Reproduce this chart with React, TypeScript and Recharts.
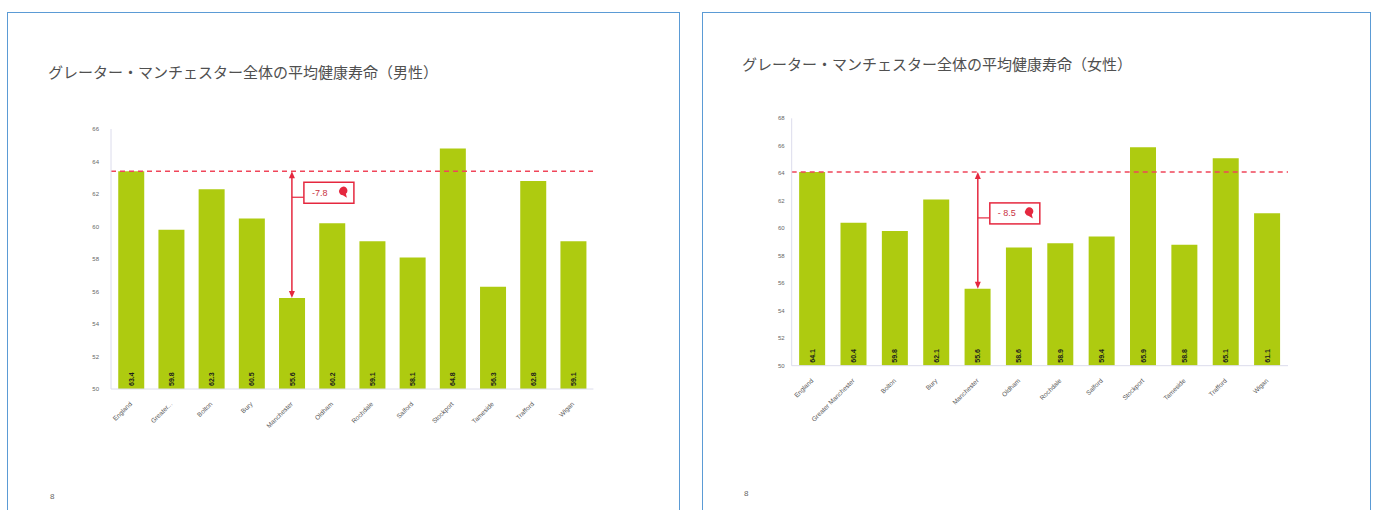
import React from "react";
import { BarChart, Bar, XAxis, YAxis, ReferenceLine, LabelList } from "recharts";

// categories (male panel truncates the long names)
const maleCategories = ["England", "Greater...", "Bolton", "Bury", "Manchester", "Oldham", "Rochdale", "Salford", "Stockport", "Tameside", "Trafford", "Wigan"];
const femaleCategories = ["England", "Greater Manchester", "Bolton", "Bury", "Manchester", "Oldham", "Rochdale", "Salford", "Stockport", "Tameside", "Trafford", "Wigan"];

// healthy life expectancy (years)
const maleValues = [63.4, 59.8, 62.3, 60.5, 55.6, 60.2, 59.1, 58.1, 64.8, 56.3, 62.8, 59.1];
const femaleValues = [64.1, 60.4, 59.8, 62.1, 55.6, 58.6, 58.9, 59.4, 65.9, 58.8, 65.1, 61.1];

const maleTicks = [50, 52, 54, 56, 58, 60, 62, 64, 66];
const femaleTicks = [50, 52, 54, 56, 58, 60, 62, 64, 66, 68];

const maleTitle = "グレーター・マンチェスター全体の平均健康寿命（男性）";
const femaleTitle = "グレーター・マンチェスター全体の平均健康寿命（女性）";

const BAR = "#AECB10";
const RED = "#E5283F";

const BarValue = (props: any) => {
  const { x, y, width, height, value } = props;
  return (
    <text
      transform={`translate(${x + width / 2}, ${y + height - 3}) rotate(-90)`}
      textAnchor="start"
      dominantBaseline="central"
      fontSize={7}
      fontWeight="bold"
      fill="#1d1d1d"
      fontFamily="Arial, sans-serif"
    >
      {Number(value).toFixed(1)}
    </text>
  );
};

const XTick = (props: any) => {
  const { x, y, payload } = props;
  return (
    <g transform={`translate(${x},${y})`}>
      <text x={0} y={0} dy="0.3em" textAnchor="end" transform="rotate(-45)" fontSize={6.5} fill="#555" fontFamily="Arial, sans-serif">
        {payload.value}
      </text>
    </g>
  );
};

function makeCallout(label: string, boxOffset: number) {
  return (p: any) => {
    const x = p.x1;
    const top = Math.min(p.y1, p.y2);
    const bot = Math.max(p.y1, p.y2);
    const bx = x + 12;
    const by = top + boxOffset;
    const bw = 50;
    const bh = 21;
    const my = by + bh / 2;
    const cy = by + 15;
    return (
      <g>
        <line x1={x} y1={top + 3} x2={x} y2={bot - 3} stroke={RED} strokeWidth={1.5} />
        <polygon points={`${x},${top} ${x - 3},${top + 7} ${x + 3},${top + 7}`} fill={RED} />
        <polygon points={`${x},${bot} ${x - 3},${bot - 7} ${x + 3},${bot - 7}`} fill={RED} />
        <line x1={x} y1={cy} x2={bx} y2={cy} stroke={RED} strokeWidth={1.2} />
        <rect x={bx} y={by} width={bw} height={bh} fill="#fff" stroke={RED} strokeWidth={1.5} />
        <text x={bx + 8} y={my} dominantBaseline="central" fontSize={9} fill="#C8323F" fontFamily="Arial, sans-serif">
          {label}
        </text>
        <path d={`M${bx + 36},${my - 4} a4,4 0 1,1 6,5 l1,4 l-4,-2.5 a4,4 0 0,1 -3,-6.5 z`} fill={RED} />
      </g>
    );
  };
}

type PanelProps = {
  left: number;
  width: number;
  boxLeft: number;
  boxWidth: number;
  title: string;
  titleLeft: number;
  titleTop: number;
  footerLeft: number;
  footerTop: number;
  categories: string[];
  values: number[];
  ticks: number[];
  margin: { top: number; left: number; right: number; bottom: number };
  tickMargin: number;
  callout: string;
  boxOffset: number;
};

function Panel(props: PanelProps) {
  const { left, width, boxLeft, boxWidth, title, titleLeft, titleTop, footerLeft, footerTop, categories, values, ticks, margin, tickMargin, callout, boxOffset } = props;
  const data = categories.map((name, i) => ({ name, value: values[i] }));
  const ref = values[0];
  const low = values[4];
  return (
    <>
      <div style={{ position: "absolute", left: boxLeft, top: 12, width: boxWidth, height: 520, border: "1.5px solid #5B9BD5", boxSizing: "border-box" }} />
      <div style={{ position: "absolute", left: titleLeft, top: titleTop, fontFamily: "'Noto Sans CJK JP', sans-serif", fontSize: 15, color: "#505050", whiteSpace: "nowrap", lineHeight: "16px" }}>
        {title}
      </div>
      <div style={{ position: "absolute", left: footerLeft, top: footerTop, fontFamily: "Arial, sans-serif", fontSize: 8, color: "#666" }}>8</div>
      <div style={{ position: "absolute", left, top: 0 }}>
        <BarChart width={width} height={510} data={data} margin={margin} barCategoryGap="18%">
          <XAxis dataKey="name" interval={0} height={60} tickLine={false} axisLine={{ stroke: "#DCDCEC" }} tickMargin={8} tick={<XTick />} />
          <YAxis
            domain={[ticks[0], ticks[ticks.length - 1]]}
            ticks={ticks}
            width={20}
            tickLine={false}
            axisLine={{ stroke: "#DCDCEC" }}
            tickMargin={tickMargin}
            tick={{ fontSize: 6, fill: "#666", fontFamily: "Arial, sans-serif" }}
            allowDataOverflow
          />
          <Bar dataKey="value" fill={BAR} isAnimationActive={false}>
            <LabelList dataKey="value" content={<BarValue />} />
          </Bar>
          <ReferenceLine y={ref} stroke="#F0465A" strokeWidth={1.5} strokeDasharray="5 4" />
          <ReferenceLine
            segment={[{ x: "Manchester", y: ref }, { x: "Manchester", y: low }]}
            shape={makeCallout(callout, boxOffset)}
          />
        </BarChart>
      </div>
    </>
  );
}

export default function App() {
  return (
    <div style={{ position: "absolute", left: 0, top: 0, width: 1377, height: 510, overflow: "hidden", background: "#fff" }}>
      <Panel
        left={0}
        width={690}
        boxLeft={7}
        boxWidth={673}
        title={maleTitle}
        titleLeft={48}
        titleTop={64}
        footerLeft={50}
        footerTop={492}
        categories={maleCategories}
        values={maleValues}
        ticks={maleTicks}
        margin={{ top: 129, left: 91, right: 96.6, bottom: 61 }}
        tickMargin={6}
        callout="-7.8"
        boxOffset={11}
      />
      <Panel
        left={690}
        width={687}
        boxLeft={702}
        boxWidth={669}
        title={femaleTitle}
        titleLeft={742}
        titleTop={56}
        footerLeft={744}
        footerTop={489}
        categories={femaleCategories}
        values={femaleValues}
        ticks={femaleTicks}
        margin={{ top: 118.3, left: 81.7, right: 89, bottom: 84.3 }}
        tickMargin={1}
        callout="- 8.5"
        boxOffset={31}
      />
    </div>
  );
}
